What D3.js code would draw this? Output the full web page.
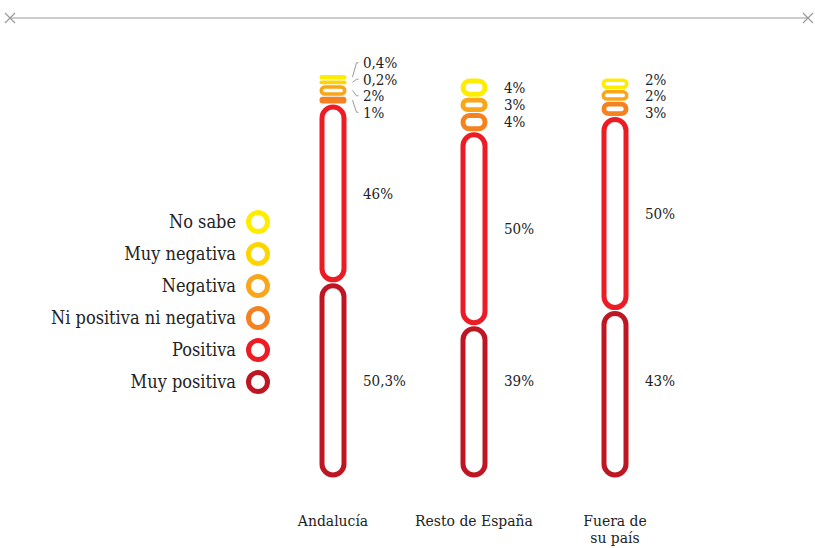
<!DOCTYPE html>
<html>
<head>
<meta charset="utf-8">
<style>
body { margin: 0; background: #fff; }
text { font-family: "DejaVu Serif Condensed", "DejaVu Serif", serif; fill: #222; }
</style>
</head>
<body>
<script src="https://cdn.jsdelivr.net/npm/d3@7"></script>
<script>

// categories (columns) and series, bottom to top of each stack
var categories = ["Andalucía", "Resto de España", "Fuera de su país"];
var categoryLines = [["Andalucía"], ["Resto de España"], ["Fuera de", "su país"]];
var series = ["Muy positiva", "Positiva", "Ni positiva ni negativa", "Negativa", "Muy negativa", "No sabe"];
var colors = ["#be1622", "#ed1c24", "#f58220", "#f9a61a", "#ffd500", "#ffed00"];

// values in %, one per category (null = not shown)
var muyPositiva = [50.3, 39, 43];
var positiva = [46, 50, 50];
var niPosNiNeg = [1, 4, 3];
var negativa = [2, 3, 2];
var muyNegativa = [0.2, null, null];
var noSabe = [0.4, 4, 2];

var valuesBySeries = [muyPositiva, positiva, niPosNiNeg, negativa, muyNegativa, noSabe];

var width = 815, height = 548;
var svg = d3.select("body").append("svg")
    .attr("width", width)
    .attr("height", height);

// top rule with x marks
var rule = svg.append("g").attr("stroke", "#9a9a9a");
rule.append("line").attr("x1", 10).attr("x2", 808).attr("y1", 18).attr("y2", 18).attr("stroke-width", 1.2);
[10, 808].forEach(function(x) {
  rule.append("path").attr("d", "M" + (x - 5) + "," + 13 + "L" + (x + 5) + "," + 23 + "M" + (x - 5) + "," + 23 + "L" + (x + 5) + "," + 13)
    .attr("stroke-width", 1.2).attr("fill", "none");
});

var x = d3.scalePoint().domain(categories).range([333, 615]);
var h = d3.scaleLinear().domain([0, 100]).range([0, 380]);
var pad = 4, gap = 1, sw = 5, pillW = 27;
var baseY = 478;

function fmt(v) { return String(v).replace(".", ",") + "%"; }

// build stacked segments for every column
var stacks = categories.map(function(cat, ci) {
  var segs = [];
  var y = baseY;
  valuesBySeries.forEach(function(arr, si) {
    var v = arr[ci];
    if (v == null) return;
    var slot = h(v) + pad;
    var H = slot - gap;
    segs.push({v: v, si: si, color: colors[si], y0: y - slot, y1: y, cy: y - slot / 2,
               H: H, solid: H < 9, s: Math.min(sw, H * 0.33)});
    y -= slot;
  });
  return segs;
});

// bottom row labels share one line (level of the tallest bottom segment)
var baseRow = d3.min(stacks, function(s) { return s[0].cy; });

categories.forEach(function(cat, ci) {
  var cx = x(cat);
  var segs = stacks[ci];

  var g = svg.append("g");
  g.selectAll("rect").data(segs).enter().append("rect")
    .attr("x", function(d) { return d.solid ? cx - pillW / 2 : cx - pillW / 2 + d.s / 2; })
    .attr("width", function(d) { return d.solid ? pillW : pillW - d.s; })
    .attr("y", function(d) { return d.solid ? d.y0 + gap / 2 : d.y0 + gap / 2 + d.s / 2; })
    .attr("height", function(d) { return d.solid ? d.H : d.H - d.s; })
    .attr("rx", function(d) { return d.solid ? d.H / 2 : Math.min((pillW - d.s) / 2, (d.H - d.s) / 2); })
    .attr("fill", function(d) { return d.solid ? d.color : "none"; })
    .attr("stroke", function(d) { return d.solid ? "none" : d.color; })
    .attr("stroke-width", function(d) { return d.s; });

  // label positions: segment centers, small ones spread apart
  segs.forEach(function(d) { d.ly = d.cy; });
  segs[0].ly = baseRow;
  var top = segs.slice().reverse();
  var minGap = 16.5;
  for (var iter = 0; iter < 60; iter++) {
    var moved = false;
    for (var i = 1; i < top.length; i++) {
      var dy = top[i].ly - top[i - 1].ly;
      if (dy < minGap) {
        var shift = (minGap - dy) / 2;
        top[i - 1].ly -= shift;
        top[i].ly += shift;
        moved = true;
      }
    }
    if (!moved) break;
  }
  var maxShift = d3.max(segs.slice(1), function(d) { return Math.abs(d.ly - d.cy); });

  if (maxShift > 5) {
    g.selectAll("path.leader").data(segs.filter(function(d) { return d.y1 - d.y0 < 30; }))
      .enter().append("path")
      .attr("class", "leader")
      .attr("d", function(d) {
        return "M" + (cx + pillW / 2 + 6) + "," + d.cy + "L" + (cx + pillW / 2 + 10) + "," + d.ly + "L" + (cx + pillW / 2 + 12) + "," + d.ly;
      })
      .attr("stroke", "#999").attr("stroke-width", 1).attr("fill", "none");
  }

  g.selectAll("text.pct").data(segs).enter().append("text")
    .attr("class", "pct")
    .attr("x", cx + 30)
    .attr("y", function(d) { return d.ly; })
    .attr("dy", "0.35em")
    .attr("font-size", 15)
    .text(function(d) { return fmt(d.v); });

  g.selectAll("text.cat").data(categoryLines[ci]).enter().append("text")
    .attr("class", "cat")
    .attr("x", cx)
    .attr("y", function(d, li) { return 526 + li * 17; })
    .attr("text-anchor", "middle")
    .attr("font-size", 15.5)
    .text(function(d) { return d; });
});

// legend, top to bottom
var legendOrder = series.slice().reverse();
var legendColors = colors.slice().reverse();
var ly = d3.scalePoint().domain(legendOrder).range([222, 382]);
var legend = svg.append("g");
legend.selectAll("circle").data(legendOrder).enter().append("circle")
  .attr("cx", 258)
  .attr("cy", function(d) { return ly(d); })
  .attr("r", 9.5)
  .attr("fill", "none")
  .attr("stroke", function(d, i) { return legendColors[i]; })
  .attr("stroke-width", 5);
legend.selectAll("text").data(legendOrder).enter().append("text")
  .attr("x", 236)
  .attr("y", function(d) { return ly(d); })
  .attr("dy", "0.35em")
  .attr("text-anchor", "end")
  .attr("font-size", 18)
  .text(function(d) { return d; });

</script>
</body>
</html>
